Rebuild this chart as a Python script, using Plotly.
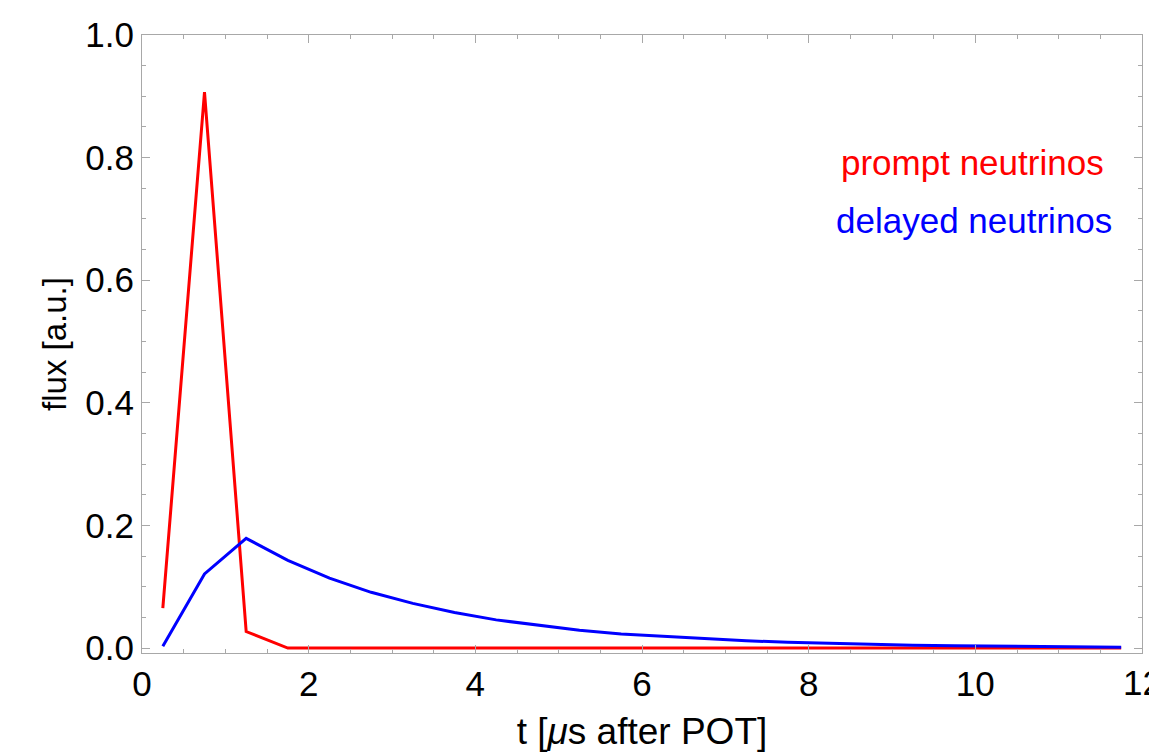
import plotly.graph_objects as go

# time bins (microseconds after POT)
t = [0.25, 0.75, 1.25, 1.75, 2.25, 2.75, 3.25, 3.75, 4.25, 4.75, 5.25, 5.75,
     6.25, 6.75, 7.25, 7.75, 8.25, 8.75, 9.25, 9.75, 10.25, 10.75, 11.25, 11.75]

prompt = [0.065, 0.907, 0.027, 0.0, 0.0, 0.0, 0.0, 0.0, 0.0, 0.0, 0.0, 0.0,
          0.0, 0.0, 0.0, 0.0, 0.0, 0.0, 0.0, 0.0, 0.0, 0.0, 0.0, 0.0]

delayed = [0.003, 0.121, 0.179, 0.143, 0.114, 0.091, 0.073, 0.058, 0.046, 0.037,
           0.029, 0.023, 0.019, 0.015, 0.012, 0.0095, 0.0075, 0.006, 0.0047, 0.0037,
           0.003, 0.0024, 0.0019, 0.0015]

x_ticks = [0, 2, 4, 6, 8, 10]
x_tick_labels = ["0", "2", "4", "6", "8", "10"]
x_edge_tick = 12
x_edge_label = "12"
y_ticks = [0.0, 0.2, 0.4, 0.6, 0.8, 1.0]
y_tick_labels = ["0.0", "0.2", "0.4", "0.6", "0.8", "1.0"]

RED = "rgb(255,0,0)"
BLUE = "rgb(0,0,255)"
FRAME = "#a8a8a8"
FONT = "Liberation Sans, Arial, sans-serif"

fig = go.Figure()
fig.add_trace(go.Scatter(x=t, y=prompt, mode="lines", name="prompt neutrinos",
                         line=dict(color=RED, width=3)))
fig.add_trace(go.Scatter(x=t, y=delayed, mode="lines", name="delayed neutrinos",
                         line=dict(color=BLUE, width=3)))

fig.add_annotation(x=9.97, y=0.792, xref="x", yref="y", text="prompt neutrinos",
                   showarrow=False, font=dict(family=FONT, size=35, color=RED))
fig.add_annotation(x=9.98, y=0.697, xref="x", yref="y", text="delayed neutrinos",
                   showarrow=False, font=dict(family=FONT, size=35, color=BLUE))
# last x tick label, clipped by the right edge of the page as in the original
fig.add_annotation(x=x_edge_tick, y=0, xref="x", yref="paper", yanchor="top", yshift=-8,
                   text=x_edge_label, showarrow=False,
                   font=dict(family=FONT, size=35, color="black"))

fig.update_layout(
    width=1149, height=752,
    margin=dict(l=142, r=7, t=35, b=99),
    paper_bgcolor="white", plot_bgcolor="white",
    showlegend=False,
    font=dict(family=FONT, color="black"),
)

fig.update_xaxes(
    range=[0, 12], tickvals=x_ticks, ticktext=x_tick_labels, automargin=False,
    showgrid=False, zeroline=False,
    showline=True, linecolor=FRAME, linewidth=1, mirror="ticks",
    ticks="inside", ticklen=8, tickcolor=FRAME, tickwidth=1,
    minor=dict(dtick=0.5, tick0=0, ticks="inside", ticklen=4, tickcolor=FRAME, showgrid=False),
    tickfont=dict(family=FONT, size=35, color="black"),
    title=dict(text="t [<i>μ</i>s after POT]", font=dict(family=FONT, size=37, color="black"),
               standoff=22),
)
fig.update_yaxes(
    range=[-0.008, 1.0], tickvals=y_ticks, ticktext=y_tick_labels, automargin=False,
    showgrid=False, zeroline=False,
    showline=True, linecolor=FRAME, linewidth=1, mirror="ticks",
    ticks="inside", ticklen=8, tickcolor=FRAME, tickwidth=1,
    minor=dict(dtick=0.05, tick0=0, ticks="inside", ticklen=4, tickcolor=FRAME, showgrid=False),
    tickfont=dict(family=FONT, size=35, color="black"),
    title=dict(text="flux [a.u.]", font=dict(family=FONT, size=33, color="black"),
               standoff=8),
)

fig.write_html("out.html")
